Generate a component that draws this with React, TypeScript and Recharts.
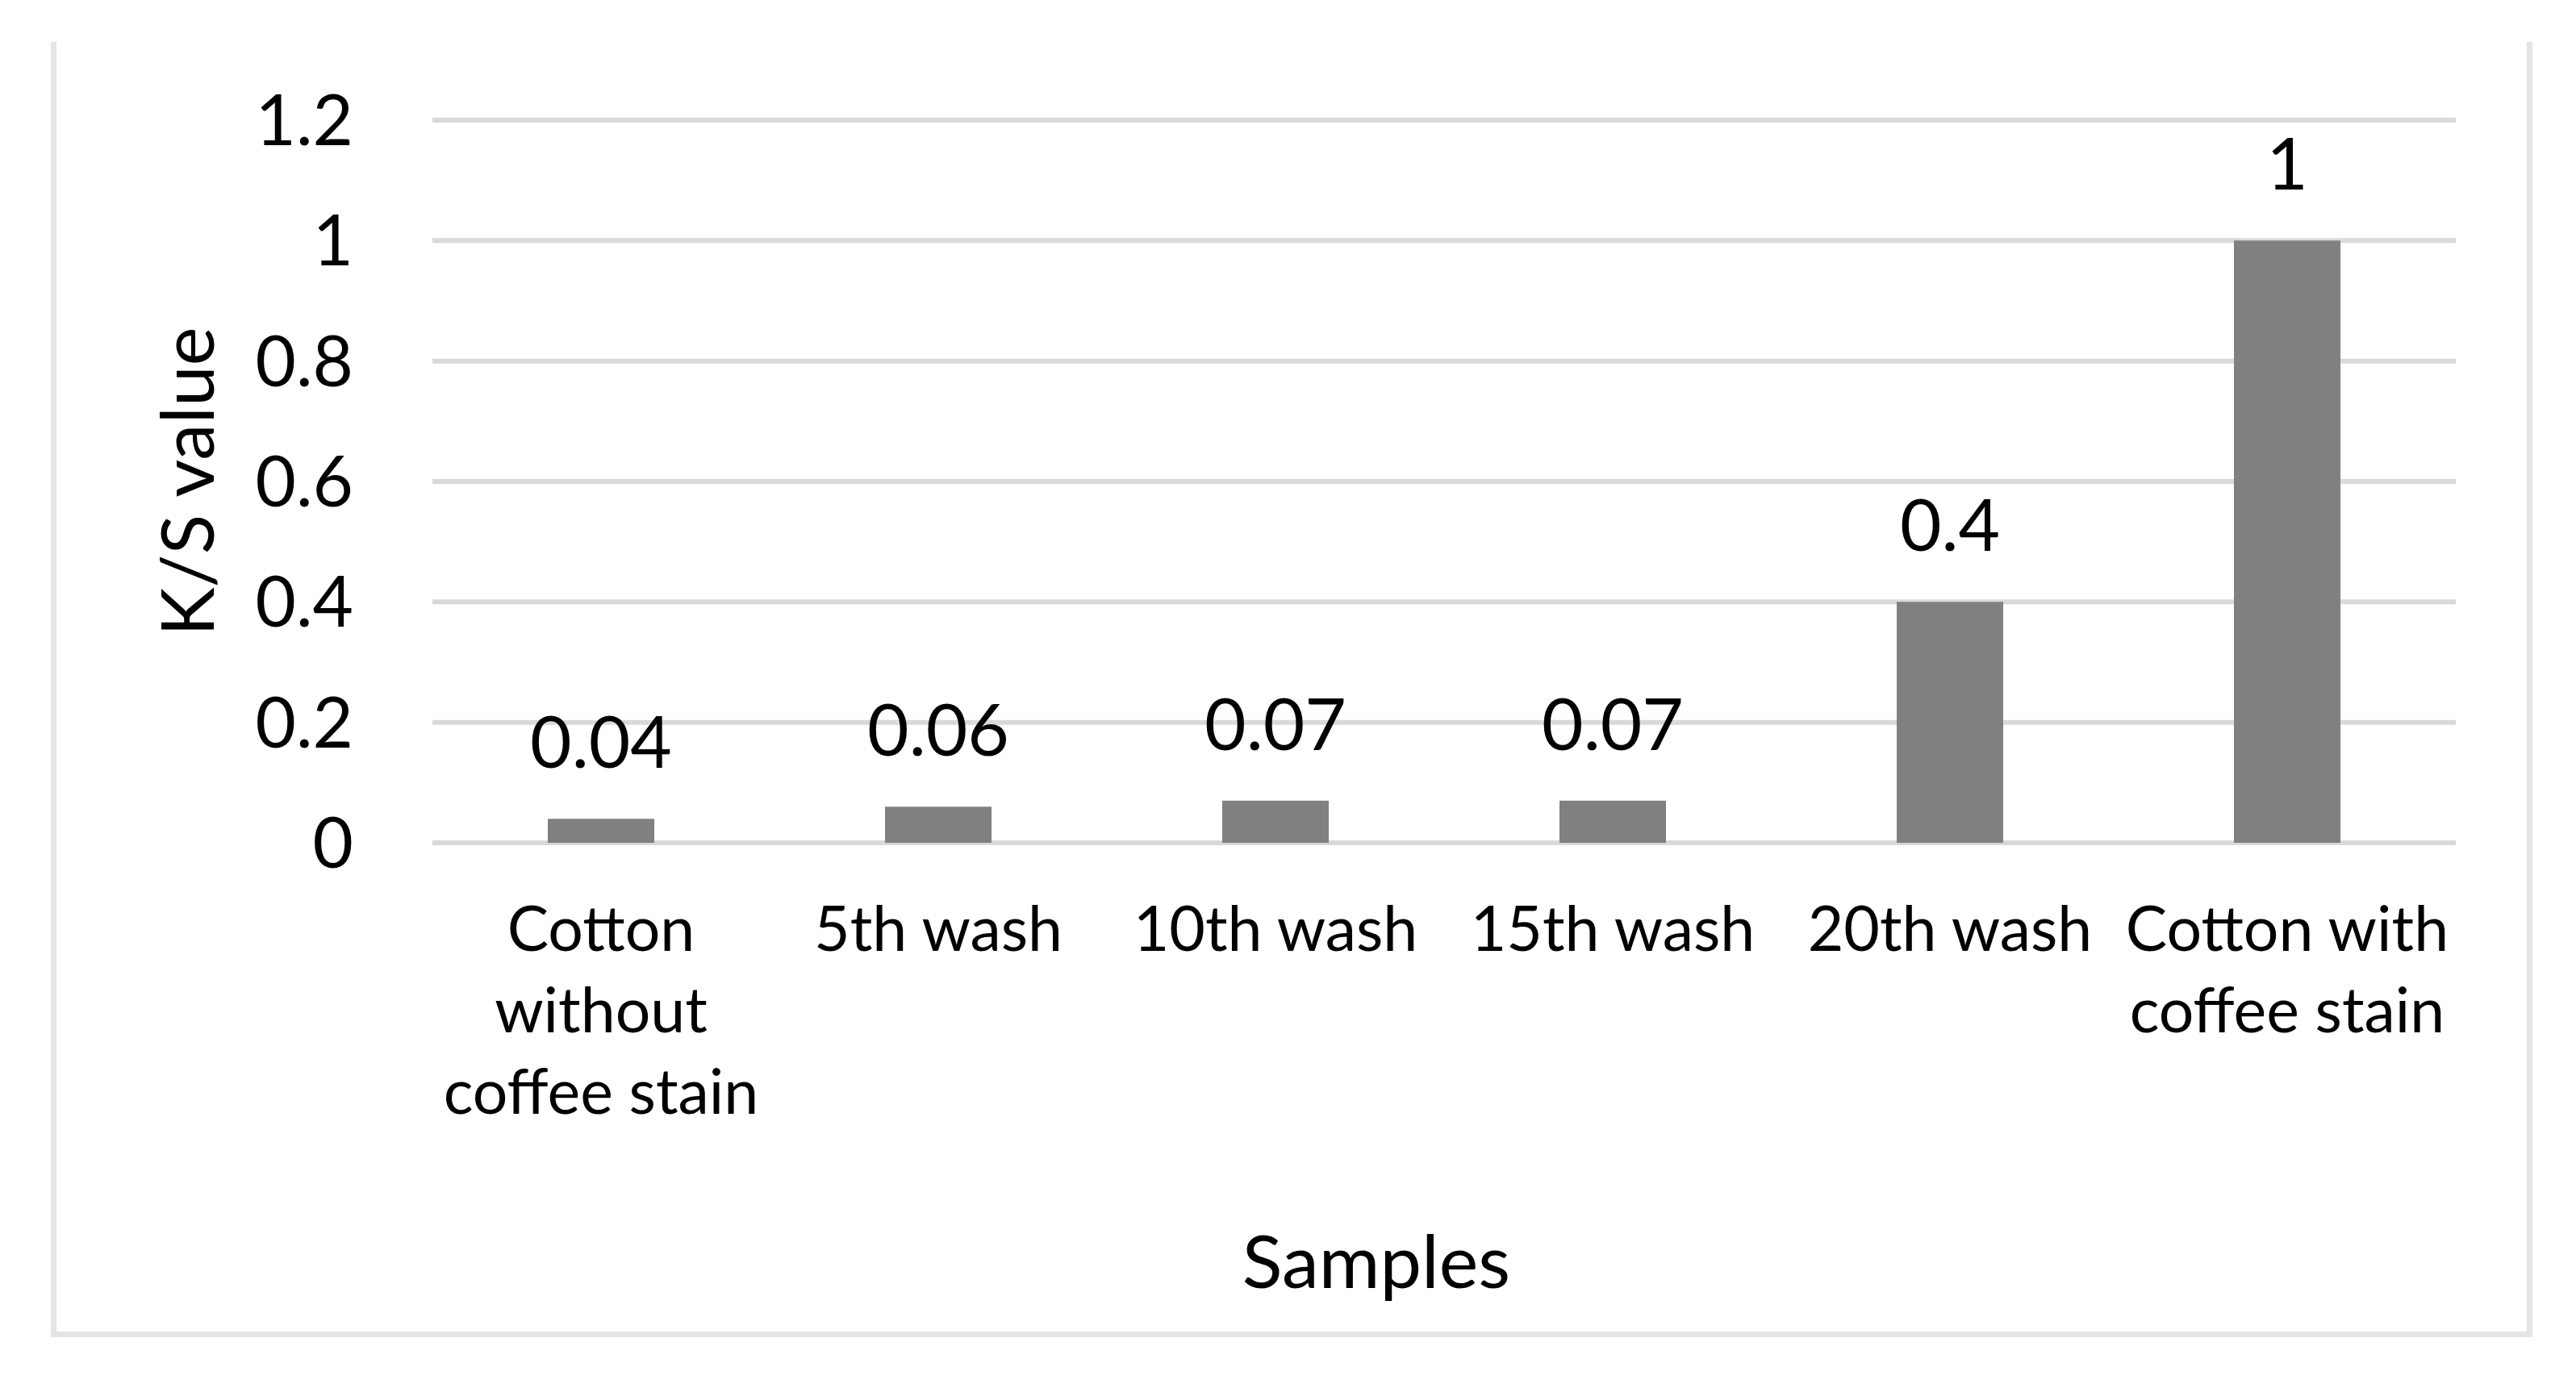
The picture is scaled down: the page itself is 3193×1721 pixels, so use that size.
import { BarChart, Bar, XAxis, YAxis, CartesianGrid, LabelList, Label } from "recharts";

const categories = [
  "Cotton\nwithout\ncoffee stain",
  "5th wash",
  "10th wash",
  "15th wash",
  "20th wash",
  "Cotton with\ncoffee stain",
];
const ksValues = [0.04, 0.06, 0.07, 0.07, 0.4, 1];
const yTicks = [0, 0.2, 0.4, 0.6, 0.8, 1, 1.2];

const data = categories.map((name, i) => ({ name, value: ksValues[i] }));

const FONT = "Lato, 'Noto Sans', sans-serif";

function CategoryTick(props: any) {
  const { x, y, payload } = props;
  const lines = String(payload.value).split("\n");
  return (
    <text x={x} y={y + 134} textAnchor="middle" fontFamily={FONT} fontSize={77} fill="#000">
      {lines.map((line, i) => (
        <tspan key={i} x={x} dy={i === 0 ? 0 : 101}>
          {line}
        </tspan>
      ))}
    </text>
  );
}

export default function App() {
  return (
    <div style={{ position: "absolute", left: 0, top: 0, width: 3193, height: 1721, background: "#fff" }}>
      {/* chart area border: top edge is cropped off in the source */}
      <div
        style={{
          position: "absolute",
          left: 63,
          top: 52,
          width: 3139 - 63 - 14,
          height: 1658 - 52 - 7,
          borderLeft: "7px solid #e4e4e4",
          borderRight: "7px solid #e4e4e4",
          borderBottom: "7px solid #e4e4e4",
        }}
      />
      <div style={{ position: "absolute", left: 0, top: 0 }}>
        <BarChart width={3193} height={1721} data={data} margin={{ top: 149, right: 149, left: 0, bottom: 0 }}>
          <CartesianGrid vertical={false} stroke="#d9d9d9" strokeWidth={6} />
          <XAxis
            dataKey="name"
            height={676}
            axisLine={false}
            tickLine={false}
            tickSize={0}
            tickMargin={0}
            interval={0}
            tick={<CategoryTick />}
          >
            <Label
              value="Samples"
              position="insideBottom"
              offset={124}
              dx={-84}
              fontFamily={FONT}
              fontSize={92}
              fill="#000"
            />
          </XAxis>
          <YAxis
            width={536}
            domain={[0, 1.2]}
            ticks={yTicks}
            axisLine={false}
            tickLine={false}
            tickSize={0}
            tickMargin={98}
            tick={{ fontFamily: FONT, fontSize: 87, fill: "#000" }}
          >
            <Label
              value="K/S value"
              position="center"
              angle={-90}
              dx={-35}
              fontFamily={FONT}
              fontSize={91}
              fill="#000"
            />
          </YAxis>
          <Bar dataKey="value" fill="#808080" barSize={132} isAnimationActive={false}>
            <LabelList dataKey="value" position="top" offset={63} fontFamily={FONT} fontSize={89} fill="#000" />
          </Bar>
        </BarChart>
      </div>
    </div>
  );
}
